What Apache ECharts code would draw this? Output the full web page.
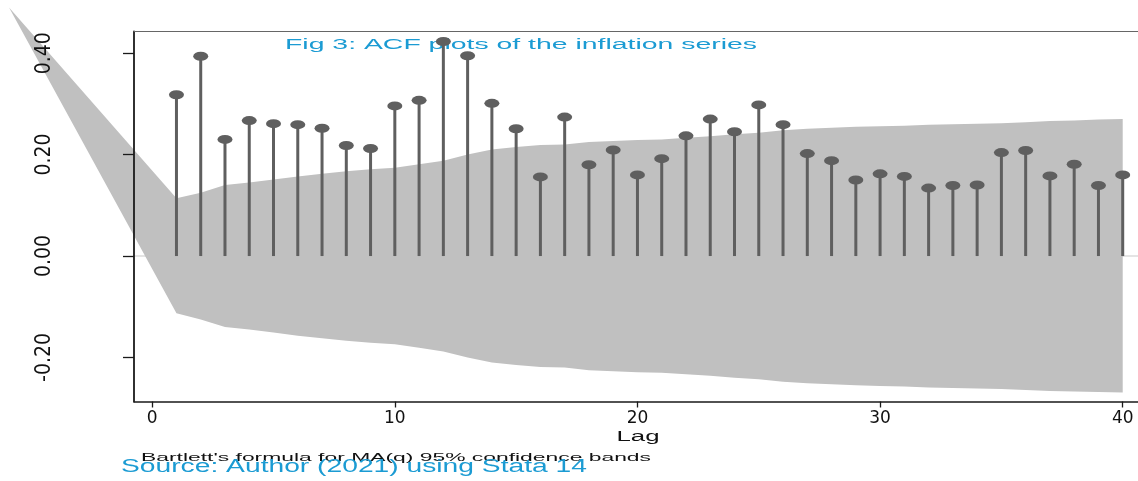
<!DOCTYPE html>
<html>
<head>
<meta charset="utf-8">
<script src="https://cdn.jsdelivr.net/npm/echarts@6/dist/echarts.min.js"></script>
<style>
html,body{margin:0;padding:0;background:#fff;}
#c{width:1138px;height:481px;}
</style>
</head>
<body>
<div id="c"></div>
<script>
// ---- data ----
const lags = [1,2,3,4,5,6,7,8,9,10,11,12,13,14,15,16,17,18,19,20,21,22,23,24,25,26,27,28,29,30,31,32,33,34,35,36,37,38,39,40];
const acfValues = [0.318,0.394,0.230,0.267,0.261,0.259,0.252,0.218,0.212,0.296,
                   0.307,0.423,0.395,0.301,0.251,0.156,0.274,0.180,0.209,0.160,
                   0.192,0.237,0.270,0.245,0.298,0.259,0.202,0.188,0.150,0.162,
                   0.157,0.134,0.139,0.140,0.204,0.208,0.158,0.181,0.139,0.160];
const bandUpper = [0.114,0.125,0.140,0.145,0.151,0.157,0.162,0.167,0.171,0.174,
                   0.181,0.188,0.200,0.210,0.215,0.219,0.220,0.225,0.227,0.229,
                   0.230,0.233,0.236,0.240,0.243,0.248,0.251,0.253,0.255,0.256,
                   0.257,0.259,0.260,0.261,0.262,0.264,0.266,0.267,0.269,0.270];
const bandLower = [-0.113,-0.125,-0.140,-0.145,-0.151,-0.157,-0.162,-0.167,-0.171,-0.174,
                   -0.181,-0.188,-0.200,-0.210,-0.215,-0.219,-0.220,-0.225,-0.227,-0.229,
                   -0.230,-0.233,-0.236,-0.240,-0.243,-0.248,-0.251,-0.253,-0.255,-0.256,
                   -0.257,-0.259,-0.260,-0.261,-0.262,-0.264,-0.266,-0.267,-0.268,-0.269];
const bandApex = [-5.9, 0.49];   // where the band's two edges meet (outside the plot)
const xTicks = [0,10,20,30,40];
const yTicks = [-0.2,0,0.2,0.4];
const titleText = 'Fig 3: ACF plots of the inflation series';
const xAxisName = 'Lag';
const noteText = "Bartlett's formula for MA(q) 95% confidence bands";
const sourceText = 'Source: Author (2021) using Stata 14';

// ---- helpers ----
const measureCtx = document.createElement('canvas').getContext('2d');
function fitScale(text, font, target){
  measureCtx.font = font;
  return target / measureCtx.measureText(text).width;
}
function stretchedText(text, x, y, size, color, target, align){
  const font = size + 'px "Liberation Sans", Arial, sans-serif';
  return {
    type:'text', x:x, y:y, z:0, silent:true,
    scaleX: fitScale(text, font, target),
    style:{text:text, font:font, fill:color,
           align:align||'left', textAlign:align||'left',
           verticalAlign:'middle', textVerticalAlign:'middle'}
  };
}

const X_MIN = -0.75, X_MAX = 40.63, Y_MIN = -0.2868, Y_MAX = 0.4427;
const blue = '#1b9bd3', stemColor = '#5f5f5f';

const chart = echarts.init(document.getElementById('c'), null, {renderer:'canvas'});
const option = {
  animation:false,
  backgroundColor:'#ffffff',
  grid:{left:134, right:0, top:31.5, bottom:79.5, outerBoundsMode:'none', containLabel:false},
  xAxis:[{
    type:'value', min:X_MIN, max:X_MAX, z:5,
    axisLine:{show:true, onZero:false, lineStyle:{color:'#1a1a1a', width:1.6}},
    axisTick:{show:true, length:6, customValues:xTicks, lineStyle:{color:'#1a1a1a', width:1.3}},
    axisLabel:{show:true, customValues:xTicks, margin:9, color:'#111',
               fontFamily:'DejaVu Sans', fontSize:17, formatter:v=>String(v)},
    splitLine:{show:false}
  },{
    type:'value', position:'top', min:X_MIN, max:X_MAX, z:5,
    axisLine:{show:true, onZero:false, lineStyle:{color:'#666', width:1.2}},
    axisTick:{show:false}, axisLabel:{show:false}, splitLine:{show:false}
  }],
  yAxis:{
    type:'value', min:Y_MIN, max:Y_MAX, z:5,
    axisLine:{show:true, onZero:false, lineStyle:{color:'#1a1a1a', width:1.8}},
    axisTick:{show:true, length:11, customValues:yTicks, lineStyle:{color:'#1a1a1a', width:1.3}},
    axisLabel:{show:true, customValues:yTicks, rotate:90, margin:79, color:'#111',
               fontFamily:'"Liberation Sans Narrow", "DejaVu Sans Condensed", "Liberation Sans", sans-serif',
               fontSize:21, formatter:v=>v.toFixed(2)},
    splitLine:{show:false}
  },
  graphic:[
    stretchedText(titleText, 285, 45, 15.5, blue, 472),
    stretchedText(xAxisName, 638, 437, 15.5, '#111', 43, 'center'),
    stretchedText(noteText, 141, 458, 11.5, '#111', 510),
    stretchedText(sourceText, 121, 467.5, 18, blue, 466)
  ],
  series:[
    { // zero reference line (hidden under the band, visible outside it)
      type:'custom', z:0.5, silent:true, clip:true,
      data:[[0, 0]],
      encode:{x:0, y:1},
      renderItem:function(params, api){
        const a = api.coord([X_MIN, api.value(1)]);
        const b = api.coord([X_MAX, api.value(1)]);
        return {type:'line', shape:{x1:a[0], y1:a[1], x2:b[0], y2:b[1]},
                style:{stroke:'#e4e4e4', lineWidth:2}};
      }
    },
    { // Bartlett confidence band
      type:'custom', z:1, silent:true, clip:false,
      data: lags.map((l,i)=>[l, bandLower[i], bandUpper[i]]),
      encode:{x:0, y:[1,2]},
      renderItem:function(params, api){
        if (params.dataIndex !== 0) return null;
        const pts = [api.coord(bandApex)];
        for (let i=0;i<lags.length;i++) pts.push(api.coord([lags[i], bandUpper[i]]));
        for (let i=lags.length-1;i>=0;i--) pts.push(api.coord([lags[i], bandLower[i]]));
        return {type:'polygon', shape:{points:pts}, style:{fill:'#c0c0c0'}};
      }
    },
    { // stems
      type:'bar', z:2, barWidth:3, silent:true,
      data: lags.map((l,i)=>[l, acfValues[i]]),
      itemStyle:{color:stemColor}
    },
    { // spike heads
      type:'scatter', z:3, silent:true,
      symbol:'path://M0,5A5,5,0,1,1,10,5A5,5,0,1,1,0,5Z',
      symbolSize:[15,9],
      data: lags.map((l,i)=>[l, acfValues[i]]),
      itemStyle:{color:stemColor, opacity:1}
    }
  ]
};
chart.setOption(option);
</script>
</body>
</html>
